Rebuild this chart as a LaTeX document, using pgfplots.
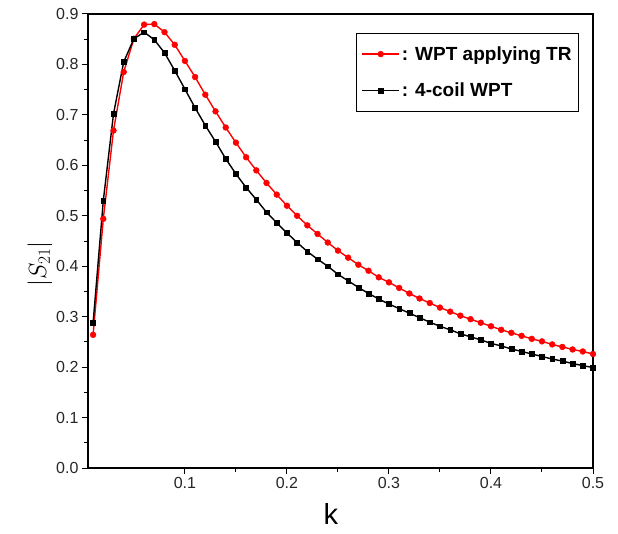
\documentclass[border=0pt]{standalone}
\usepackage{pgfplots}
\pgfplotsset{compat=1.18}
\usepackage{pgfplotstable}
\usepackage{fontspec}
\setmainfont{Liberation Sans}

\pgfplotstableread{
k s
0.01 0.264
0.02 0.494
0.03 0.669
0.04 0.785
0.05 0.851
0.06 0.879
0.07 0.880
0.08 0.864
0.09 0.839
0.10 0.807
0.11 0.775
0.12 0.740
0.13 0.707
0.14 0.675
0.15 0.645
0.16 0.616
0.17 0.590
0.18 0.565
0.19 0.542
0.20 0.520
0.21 0.500
0.22 0.481
0.23 0.464
0.24 0.447
0.25 0.431
0.26 0.417
0.27 0.403
0.28 0.391
0.29 0.378
0.30 0.368
0.31 0.357
0.32 0.346
0.33 0.336
0.34 0.327
0.35 0.318
0.36 0.310
0.37 0.302
0.38 0.295
0.39 0.288
0.40 0.281
0.41 0.274
0.42 0.268
0.43 0.262
0.44 0.256
0.45 0.251
0.46 0.245
0.47 0.240
0.48 0.235
0.49 0.231
0.50 0.226
}\redtab

\pgfplotstableread{
k s
0.01 0.288
0.02 0.530
0.03 0.702
0.04 0.805
0.05 0.851
0.06 0.864
0.07 0.849
0.08 0.823
0.09 0.788
0.10 0.751
0.11 0.714
0.12 0.679
0.13 0.647
0.14 0.613
0.15 0.583
0.16 0.556
0.17 0.532
0.18 0.507
0.19 0.486
0.20 0.466
0.21 0.447
0.22 0.429
0.23 0.414
0.24 0.400
0.25 0.384
0.26 0.371
0.27 0.358
0.28 0.346
0.29 0.335
0.30 0.325
0.31 0.316
0.32 0.307
0.33 0.298
0.34 0.289
0.35 0.281
0.36 0.274
0.37 0.266
0.38 0.260
0.39 0.254
0.40 0.247
0.41 0.242
0.42 0.236
0.43 0.231
0.44 0.226
0.45 0.221
0.46 0.216
0.47 0.212
0.48 0.207
0.49 0.203
0.50 0.199
}\blacktab

\begin{document}
\begin{tikzpicture}
\begin{axis}[
  scale only axis,
  width=505pt, height=454pt,
  xmin=0.005, xmax=0.5,
  ymin=0, ymax=0.9,
  xtick={0.1,0.2,0.3,0.4,0.5},
  ytick={0,0.1,...,0.9},
  minor x tick num=1,
  minor y tick num=1,
  tick pos=left,
  tick align=outside,
  major tick length=6pt,
  minor tick length=4pt,
  every tick/.style={black, line width=1pt},
  axis line style={line width=1.1pt},
  /pgf/number format/assume math mode=true,
  xticklabel style={/pgf/number format/.cd, fixed, precision=1, fixed zerofill},
  yticklabel style={/pgf/number format/.cd, fixed, precision=1, fixed zerofill},
  tick label style={font=\fontsize{16}{19}\selectfont, color=black!85},
  xlabel={k},
  xlabel style={at={(axis description cs:0.481,0)}, anchor=center, yshift=-46pt, inner sep=0pt, font=\fontsize{29}{34}\selectfont},
  ylabel={$|S_{21}|$},
  ylabel style={at={(axis description cs:-0.095,0.45)}, anchor=center, inner sep=0pt, font=\fontsize{27}{32}\selectfont},
  legend style={at={(0.972,0.958)}, anchor=north east, draw=black, line width=0.8pt,
    font=\bfseries\fontsize{19}{22}\selectfont, row sep=17pt, inner xsep=5pt, inner ysep=11pt},
  legend cell align=left,
  legend image code/.code={
    \draw[#1] (0cm,0cm) -- (1.3cm,0cm);
    \draw[#1, only marks] plot coordinates {(0.65cm,0cm)};
  },
]
\addplot[red, line width=1.4pt, mark=*, mark size=2.9pt, mark options={fill=red, draw=red, line width=0.5pt}] table[x=k, y=s] {\redtab};
\addlegendentry{: WPT applying TR}
\addplot[black, line width=1.4pt, mark=square*, mark size=2.4pt, mark options={fill=black, line width=0.5pt}] table[x=k, y=s] {\blacktab};
\addlegendentry{: 4-coil WPT}
\coordinate (SW) at (rel axis cs:0,0);
\end{axis}
\pgfresetboundingbox
\path[use as bounding box] (SW) ++(-88pt,-65pt) rectangle ++(618pt,533pt);
\end{tikzpicture}
\end{document}
